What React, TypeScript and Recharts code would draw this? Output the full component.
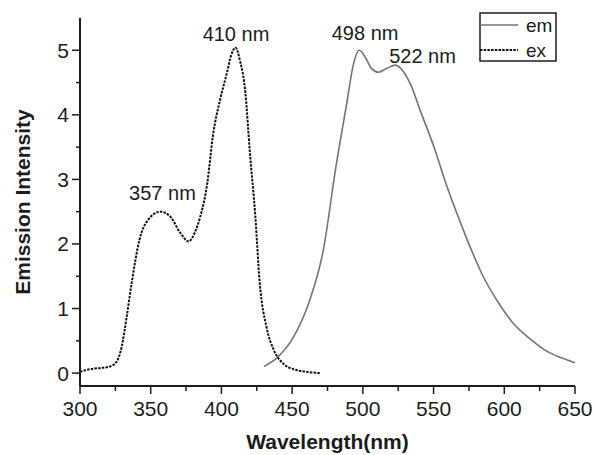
import { LineChart, Line, XAxis, YAxis, Legend, ReferenceDot, Label } from 'recharts';

// excitation spectrum (dashed)
const exWavelength = [300, 307, 315, 321, 326, 329.5, 333, 336.5, 342, 348, 357, 364, 371, 377, 381, 385, 390, 394, 399, 404, 407, 410, 413, 417, 420, 424, 427, 432, 437, 444, 451, 460, 470];
const exIntensity = [0.02, 0.06, 0.08, 0.1, 0.18, 0.41, 0.87, 1.39, 2.06, 2.37, 2.5, 2.42, 2.17, 2.04, 2.17, 2.42, 2.94, 3.68, 4.23, 4.66, 4.93, 5.04, 4.85, 4.33, 3.45, 2.42, 1.42, 0.7, 0.36, 0.14, 0.06, 0.02, 0.0];

// emission spectrum (solid grey)
const emWavelength = [430, 440, 451, 462, 472, 481, 489, 493, 497.5, 502, 506, 511, 517, 523, 529, 534, 540, 550, 559, 569, 578, 585, 595, 606, 620, 630, 640, 650];
const emIntensity = [0.1, 0.25, 0.56, 1.1, 1.9, 3.2, 4.23, 4.75, 5.0, 4.88, 4.72, 4.66, 4.72, 4.77, 4.66, 4.46, 4.1, 3.52, 2.92, 2.33, 1.84, 1.5, 1.12, 0.78, 0.5, 0.34, 0.24, 0.16];

const xTicks = [300, 325, 350, 375, 400, 425, 450, 475, 500, 525, 550, 575, 600, 625, 650];
const yTicks = [0, 0.5, 1, 1.5, 2, 2.5, 3, 3.5, 4, 4.5, 5];

// peak annotations: text anchor (centre x, baseline y) in data units
const peakLabels = ['357 nm', '410 nm', '498 nm', '522 nm'];
const peakLabelX = [358.3, 410.3, 501.6, 542.2];
const peakLabelY = [2.68, 5.15, 5.16, 4.8];

const exData = exWavelength.map((w, i) => ({ w, v: exIntensity[i] }));
const emData = emWavelength.map((w, i) => ({ w, v: emIntensity[i] }));

const FONT = '"Liberation Sans", Arial, sans-serif';
const INK = '#1c1c1c';

const XTick = ({ x, y, payload }: any) => {
  const major = payload.value % 50 === 0;
  return (
    <g>
      <line x1={x} x2={x} y1={y} y2={y + (major ? 8 : 5)} stroke={INK} strokeWidth={1.5} />
      {major && (
        <text x={x} y={y + 30} textAnchor="middle" fontSize={21} fill={INK} fontFamily={FONT}>
          {payload.value}
        </text>
      )}
    </g>
  );
};

const YTick = ({ x, y, payload }: any) => {
  const major = Number.isInteger(payload.value);
  return (
    <g>
      <line x1={x - (major ? 8 : 4)} x2={x} y1={y} y2={y} stroke={INK} strokeWidth={1.5} />
      {major && (
        <text x={x - 11} y={y + 7.5} textAnchor="end" fontSize={21} fill={INK} fontFamily={FONT}>
          {payload.value}
        </text>
      )}
    </g>
  );
};

const LegendBox = ({ payload }: any) => (
  <svg width={78} height={50} style={{ display: 'block', overflow: 'visible' }}>
    <rect x={1} y={1} width={76} height={48} fill="#fff" stroke={INK} strokeWidth={1.5} />
    {(payload || []).map((p: any, i: number) => (
      <g key={p.value}>
        <line
          x1={1}
          x2={39}
          y1={13 + i * 25}
          y2={13 + i * 25}
          stroke={p.color}
          strokeWidth={p.payload?.strokeWidth || 1.5}
          strokeDasharray={p.payload?.strokeDasharray}
        />
        <text x={47} y={20 + i * 25} fontSize={19} fill={INK} fontFamily={FONT}>
          {p.value}
        </text>
      </g>
    ))}
  </svg>
);

const peakLabel = (text: string) => (props: any) => {
  const { x, y } = props.viewBox;
  return (
    <text x={x} y={y} textAnchor="middle" fontSize={20} fill={INK} fontFamily={FONT}>
      {text}
    </text>
  );
};

export default function App() {
  return (
    <div style={{ position: 'absolute', left: 0, top: 0, background: '#fff' }}>
      <LineChart width={594} height={455} margin={{ top: 18, right: 19, bottom: 0, left: 0 }}>
        <XAxis
          dataKey="w"
          type="number"
          domain={[300, 650]}
          ticks={xTicks}
          interval={0}
          height={69}
          tickSize={0}
          tickMargin={0}
          tickLine={false}
          tick={<XTick />}
          axisLine={{ stroke: INK, strokeWidth: 2 }}
          allowDataOverflow
        >
          <Label
            content={({ viewBox }: any) => (
              <text
                x={viewBox.x + viewBox.width / 2}
                y={viewBox.y + 63}
                textAnchor="middle"
                fontSize={21}
                fontWeight="bold"
                fill={INK}
                fontFamily={FONT}
              >
                Wavelength(nm)
              </text>
            )}
          />
        </XAxis>
        <YAxis
          type="number"
          domain={[-0.2, 5.5]}
          ticks={yTicks}
          interval={0}
          width={80}
          tickSize={0}
          tickMargin={0}
          tickLine={false}
          tick={<YTick />}
          axisLine={{ stroke: INK, strokeWidth: 2 }}
          allowDataOverflow
        >
          <Label
            content={({ viewBox }: any) => {
              const cx = 22;
              const cy = viewBox.y + viewBox.height / 2;
              return (
                <text
                  x={cx}
                  y={cy}
                  transform={`rotate(-90 ${cx} ${cy})`}
                  textAnchor="middle"
                  dominantBaseline="central"
                  fontSize={21}
                  fontWeight="bold"
                  fill={INK}
                  fontFamily={FONT}
                >
                  Emission Intensity
                </text>
              );
            }}
          />
        </YAxis>
        <Legend
          content={<LegendBox />}
          wrapperStyle={{ position: 'absolute', left: 479, top: 12, width: 78, height: 0, overflow: 'visible' }}
        />
        <Line
          data={emData}
          dataKey="v"
          name="em"
          type="monotone"
          stroke="#747474"
          strokeWidth={1.6}
          dot={false}
          activeDot={false}
          isAnimationActive={false}
        />
        <Line
          data={exData}
          dataKey="v"
          name="ex"
          type="monotone"
          stroke="#111111"
          strokeWidth={2}
          strokeDasharray="2.5 1.2"
          dot={false}
          activeDot={false}
          isAnimationActive={false}
        />
        {peakLabels.map((t, i) => (
          <ReferenceDot
            key={t}
            x={peakLabelX[i]}
            y={peakLabelY[i]}
            r={0}
            fill="none"
            stroke="none"
            label={peakLabel(t)}
          />
        ))}
      </LineChart>
    </div>
  );
}
